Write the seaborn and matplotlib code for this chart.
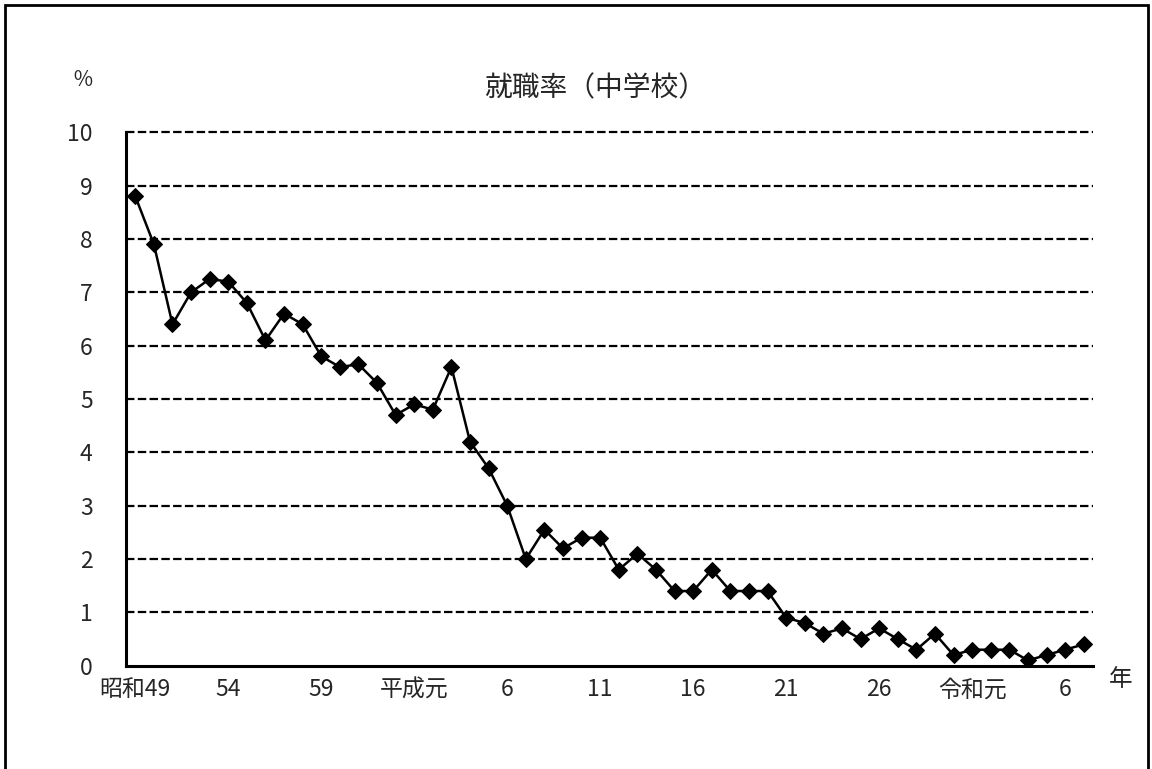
import numpy as np
import pandas as pd
import seaborn as sns
import matplotlib.pyplot as plt
from matplotlib.patches import Rectangle

# 昭和49 (1974) - 令和7 (2025)
years = list(range(1974, 2026))
rate = [8.8, 7.9, 6.4, 7.0, 7.25, 7.2, 6.8, 6.1, 6.6, 6.4,
        5.8, 5.6, 5.65, 5.3, 4.7, 4.9, 4.8, 5.6, 4.2, 3.7,
        3.0, 2.0, 2.55, 2.2, 2.4, 2.4, 1.8, 2.1, 1.8, 1.4,
        1.4, 1.8, 1.4, 1.4, 1.4, 0.9, 0.8, 0.6, 0.7, 0.5,
        0.7, 0.5, 0.3, 0.6, 0.2, 0.3, 0.3, 0.3, 0.1, 0.2,
        0.3, 0.4]
tick_pos = [0, 5, 10, 15, 20, 25, 30, 35, 40, 45, 50]
tick_labels = ["昭和49", "54", "59", "平成元", "6", "11", "16", "21", "26", "令和元", "6"]

df = pd.DataFrame({"idx": range(len(years)), "year": years, "rate": rate})

sns.set_style("white")
plt.rcParams['font.family'] = ['Noto Sans CJK JP', 'DejaVu Sans']

fig = plt.figure(figsize=(11.52, 7.69), dpi=100)
ax = fig.add_axes([126 / 1152, 1 - 665.7 / 769, (1093 - 126) / 1152, (665.7 - 132.3) / 769])

sns.lineplot(data=df, x="idx", y="rate", ax=ax, color="black", linewidth=1.8,
             marker="D", markersize=8.5, markeredgecolor="black", markerfacecolor="black",
             zorder=3)

ax.set_xlim(-0.5, len(years) - 0.5)
ax.set_ylim(0, 10)
ax.set_yticks(range(0, 11))
for v in range(1, 11):
    ax.axhline(v, color="black", linewidth=1.6, linestyle=(0, (3.8, 1.5)), zorder=1,
               clip_on=False)

# category boundaries as inward ticks, labels at category centres
ax.set_xticks(np.arange(-0.5, len(years), 1.0))
ax.set_xticklabels([])
ax.set_xticks(tick_pos, minor=True)
ax.set_xticklabels(tick_labels, minor=True, fontsize=16.5)
ax.tick_params(axis="x", which="major", direction="in", length=6, width=1.4, color="black")
ax.tick_params(axis="x", which="minor", length=0, pad=9)
ax.tick_params(axis="y", length=0, pad=24, labelsize=16.5)

ax.set_xlabel("")
ax.set_ylabel("")
for s in ["top", "right"]:
    ax.spines[s].set_visible(False)
for s in ["left", "bottom"]:
    ax.spines[s].set_color("black")
    ax.spines[s].set_linewidth(2.2)

fig.text(83 / 1152, 1 - 80 / 769, "％", fontsize=15, ha="center", va="center")
fig.text(595 / 1152, 1 - 88 / 769, "就職率（中学校）", fontsize=20, ha="center", va="center")
fig.text(1121 / 1152, 1 - 680 / 769, "年", fontsize=17, ha="center", va="center")

fig.patches.append(Rectangle((5 / 1152, -0.05), (1148 - 5) / 1152, 1.05 - 5 / 769,
                             transform=fig.transFigure, fill=False,
                             edgecolor="black", linewidth=2))

fig.savefig("out.png", dpi=100)
